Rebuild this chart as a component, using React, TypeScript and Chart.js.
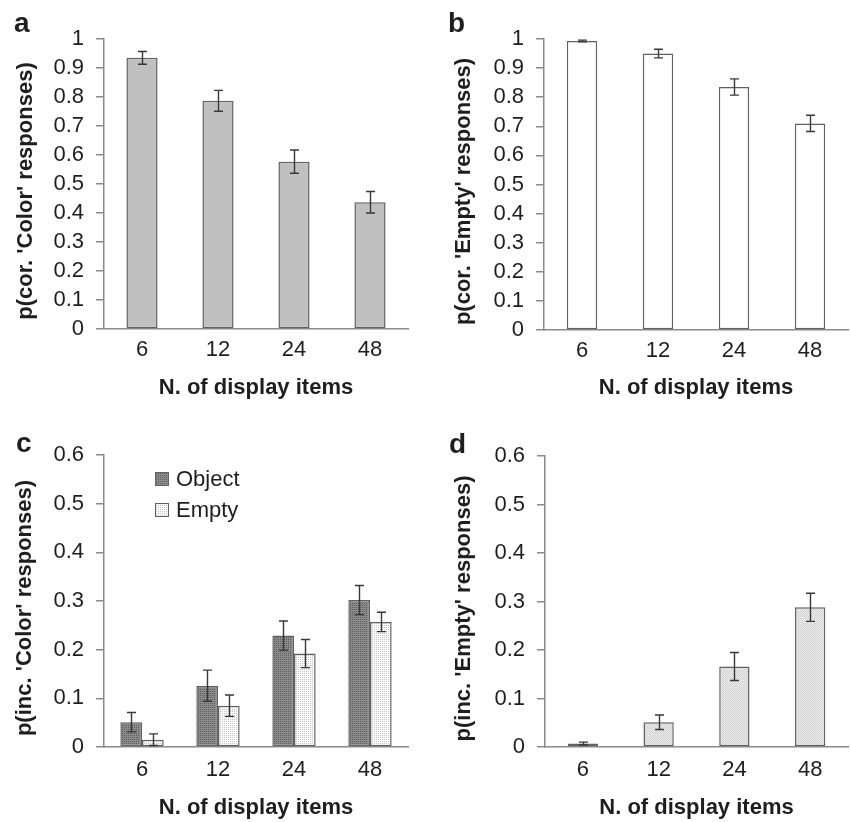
import React, { useEffect, useRef } from 'react';
import { Chart, registerables } from 'chart.js';

Chart.register(...registerables);

// ---------- data ----------
const CATEGORIES = ['6', '12', '24', '48'];

const A_VALUES = [0.935, 0.787, 0.577, 0.437];
const A_ERRORS = [0.022, 0.036, 0.04, 0.037];

const B_VALUES = [0.993, 0.95, 0.835, 0.71];
const B_ERRORS = [0.003, 0.015, 0.028, 0.028];

const C_OBJECT_VALUES = [0.051, 0.126, 0.229, 0.302];
const C_OBJECT_ERRORS = [0.02, 0.032, 0.03, 0.03];
const C_EMPTY_VALUES = [0.015, 0.085, 0.192, 0.257];
const C_EMPTY_ERRORS = [0.012, 0.022, 0.029, 0.02];

const D_VALUES = [0.007, 0.051, 0.166, 0.288];
const D_ERRORS = [0.003, 0.015, 0.029, 0.029];

const Y_TICKS_AB = [0, 0.1, 0.2, 0.3, 0.4, 0.5, 0.6, 0.7, 0.8, 0.9, 1];
const Y_TICKS_CD = [0, 0.1, 0.2, 0.3, 0.4, 0.5, 0.6];

const X_TITLE = 'N. of display items';
const Y_TITLE_A = "p(cor. 'Color' responses)";
const Y_TITLE_B = "p(cor. 'Empty' responses)";
const Y_TITLE_C = "p(inc. 'Color' responses)";
const Y_TITLE_D = "p(inc. 'Empty' responses)";
const LEGEND_LABELS = ['Object', 'Empty'];
const PANEL_LETTERS = ['a', 'b', 'c', 'd'];

// ---------- style ----------
const FONT = "'Liberation Sans', Arial, sans-serif";
const TEXT = '#1e1e1e';
const AXIS = '#8a8a8a';
const BAR_BORDER = '#626262';
const ERR = '#383838';
const W = 425;
const H = 411;

function makePattern(base: string, dot: string, size: number, dots: number[][]) {
  const c = document.createElement('canvas');
  c.width = size;
  c.height = size;
  const g = c.getContext('2d')!;
  g.fillStyle = base;
  g.fillRect(0, 0, size, size);
  g.fillStyle = dot;
  dots.forEach(([x, y]) => g.fillRect(x, y, 1, 1));
  return g.createPattern(c, 'repeat')!;
}

const errorBarPlugin = {
  id: 'errorBars',
  afterDatasetsDraw(chart: any) {
    const ctx = chart.ctx;
    const yScale = chart.scales.y;
    chart.data.datasets.forEach((ds: any, i: number) => {
      const errs = ds.errors;
      if (!errs) return;
      const meta = chart.getDatasetMeta(i);
      meta.data.forEach((bar: any, j: number) => {
        const v = ds.data[j];
        const e = errs[j];
        const x = Math.round(bar.x) + 0.5;
        const yTop = yScale.getPixelForValue(v + e);
        const yBot = yScale.getPixelForValue(Math.max(0, v - e));
        ctx.save();
        ctx.strokeStyle = ERR;
        ctx.lineWidth = 1.4;
        ctx.beginPath();
        ctx.moveTo(x, yTop);
        ctx.lineTo(x, yBot);
        ctx.moveTo(x - 4.5, yTop);
        ctx.lineTo(x + 4.5, yTop);
        ctx.moveTo(x - 4.5, yBot);
        ctx.lineTo(x + 4.5, yBot);
        ctx.stroke();
        ctx.restore();
      });
    });
  },
};

const legendPlugin = {
  id: 'panelLegend',
  afterDraw(chart: any, _args: any, opts: any) {
    if (!opts || !opts.show) return;
    const ctx = chart.ctx;
    const x0 = chart.chartArea.left + opts.dx;
    let y = chart.chartArea.top + opts.dy;
    chart.data.datasets.forEach((ds: any) => {
      ctx.save();
      ctx.fillStyle = ds.backgroundColor;
      ctx.fillRect(x0, y - 7, 14, 14);
      ctx.strokeStyle = BAR_BORDER;
      ctx.lineWidth = 1;
      ctx.strokeRect(x0 + 0.5, y - 6.5, 13, 13);
      ctx.fillStyle = TEXT;
      ctx.font = `22px ${FONT}`;
      ctx.textBaseline = 'middle';
      ctx.textAlign = 'left';
      ctx.fillText(ds.label, x0 + 21, y + 1);
      ctx.restore();
      y += opts.gap;
    });
  },
};

// vertical axis title, drawn beside the y scale
const yTitlePlugin = {
  id: 'yTitle',
  afterDraw(chart: any, _args: any, opts: any) {
    if (!opts || !opts.text) return;
    const ctx = chart.ctx;
    const { top, bottom } = chart.chartArea;
    ctx.save();
    ctx.translate(opts.x, (top + bottom) / 2 + opts.dy);
    ctx.rotate(-Math.PI / 2);
    ctx.font = `bold 22px ${FONT}`;
    ctx.fillStyle = TEXT;
    ctx.textAlign = 'center';
    ctx.textBaseline = 'middle';
    ctx.fillText(opts.text, 0, 0);
    ctx.restore();
  },
};

type Spec = {
  datasets: any[];
  yTicks: number[];
  yMax: number;
  yTitle: string;
  yTitleX: number;
  left: number;
  top: number;
  bottom: number;
  right: number;
  xTitlePad: number;
  xTickPad: number;
  legend?: boolean;
};

function buildChart(canvas: HTMLCanvasElement, s: Spec) {
  return new Chart(canvas, {
    type: 'bar',
    data: { labels: CATEGORIES, datasets: s.datasets },
    plugins: [errorBarPlugin, legendPlugin, yTitlePlugin],
    options: {
      animation: false,
      responsive: false,
      maintainAspectRatio: false,
      events: [],
      layout: { padding: { left: 0, top: s.top, right: W - s.right, bottom: 0 } },
      plugins: {
        legend: { display: false },
        tooltip: { enabled: false },
        panelLegend: { show: !!s.legend, dx: 51, dy: 24, gap: 31 },
        yTitle: { text: s.yTitle, x: s.yTitleX, dy: 7 },
      } as any,
      scales: {
        x: {
          grid: { display: false, drawTicks: false },
          border: { display: true, color: AXIS, width: 1.5 },
          ticks: { color: TEXT, font: { family: FONT, size: 22 }, padding: s.xTickPad },
          title: {
            display: true,
            text: X_TITLE,
            color: TEXT,
            font: { family: FONT, size: 22, weight: 'bold' },
            padding: { top: 0, bottom: s.xTitlePad },
          },
          afterFit: (sc: any) => {
            sc.height = H - s.bottom;
          },
        },
        y: {
          min: 0,
          max: s.yMax,
          afterBuildTicks: (sc: any) => {
            sc.ticks = s.yTicks.map((v) => ({ value: v }));
          },
          ticks: {
            color: TEXT,
            font: { family: FONT, size: 22 },
            padding: 12,
            autoSkip: false,
            callback: (v: any) => String(v),
          },
          grid: {
            drawOnChartArea: false,
            drawTicks: true,
            tickLength: 8,
            color: AXIS,
            lineWidth: 1.5,
          },
          border: { display: true, color: AXIS, width: 1.5 },
          title: { display: false },
          afterFit: (sc: any) => {
            sc.width = s.left;
          },
        },
      },
    } as any,
  });
}

export default function App() {
  const refA = useRef<HTMLCanvasElement>(null);
  const refB = useRef<HTMLCanvasElement>(null);
  const refC = useRef<HTMLCanvasElement>(null);
  const refD = useRef<HTMLCanvasElement>(null);

  useEffect(() => {
    const objPat = makePattern('#8a8a8a', '#606060', 2, [[0, 0]]);
    const emptyPat = makePattern('#fafafa', '#c6c6c6', 2, [[0, 0]]);
    const dPat = makePattern('#ececec', '#d2d2d2', 2, [[0, 0], [1, 1]]);

    const common = { borderColor: BAR_BORDER, borderWidth: 1.5, borderSkipped: false };

    const charts = [
      buildChart(refA.current!, {
        datasets: [
          { ...common, label: 'a', data: A_VALUES, errors: A_ERRORS, backgroundColor: '#c0c0c0', barPercentage: 0.41, categoryPercentage: 1 },
        ],
        yTicks: Y_TICKS_AB,
        yMax: 1,
        yTitle: Y_TITLE_A,
        yTitleX: 26,
        left: 104,
        top: 39,
        bottom: 329,
        right: 408,
        xTitlePad: 10,
        xTickPad: 8,
      }),
      buildChart(refB.current!, {
        datasets: [
          { ...common, label: 'b', data: B_VALUES, errors: B_ERRORS, backgroundColor: '#ffffff', barPercentage: 0.4, categoryPercentage: 1 },
        ],
        yTicks: Y_TICKS_AB,
        yMax: 1,
        yTitle: Y_TITLE_B,
        yTitleX: 39,
        left: 119,
        top: 39,
        bottom: 330,
        right: 423,
        xTitlePad: 10,
        xTickPad: 8,
      }),
      buildChart(refC.current!, {
        datasets: [
          { ...common, label: LEGEND_LABELS[0], data: C_OBJECT_VALUES, errors: C_OBJECT_ERRORS, backgroundColor: objPat, barPercentage: 1, categoryPercentage: 0.57 },
          { ...common, label: LEGEND_LABELS[1], data: C_EMPTY_VALUES, errors: C_EMPTY_ERRORS, backgroundColor: emptyPat, barPercentage: 1, categoryPercentage: 0.57 },
        ],
        yTicks: Y_TICKS_CD,
        yMax: 0.6,
        yTitle: Y_TITLE_C,
        yTitleX: 25,
        left: 104,
        top: 44,
        bottom: 336,
        right: 408,
        xTitlePad: 1,
        xTickPad: 10,
        legend: true,
      }),
      buildChart(refD.current!, {
        datasets: [
          { ...common, label: 'd', data: D_VALUES, errors: D_ERRORS, backgroundColor: dPat, barPercentage: 0.4, categoryPercentage: 1 },
        ],
        yTicks: Y_TICKS_CD,
        yMax: 0.6,
        yTitle: Y_TITLE_D,
        yTitleX: 38.5,
        left: 120,
        top: 45,
        bottom: 336,
        right: 423,
        xTitlePad: 1,
        xTickPad: 10,
      }),
    ];
    return () => charts.forEach((c) => c.destroy());
  }, []);

  const canvasStyle = (left: number, top: number): React.CSSProperties => ({
    position: 'absolute',
    left,
    top,
    width: W,
    height: H,
  });
  const letterStyle = (left: number, top: number): React.CSSProperties => ({
    position: 'absolute',
    left,
    top,
    font: `bold 28px ${FONT}`,
    lineHeight: '28px',
    color: TEXT,
    margin: 0,
  });

  return (
    <div style={{ position: 'absolute', left: 0, top: 0, width: 850, height: 822, background: '#ffffff', overflow: 'hidden' }}>
      <canvas ref={refA} width={W} height={H} style={canvasStyle(0, 0)} />
      <canvas ref={refB} width={W} height={H} style={canvasStyle(425, 0)} />
      <canvas ref={refC} width={W} height={H} style={canvasStyle(0, 411)} />
      <canvas ref={refD} width={W} height={H} style={canvasStyle(425, 411)} />
      <div style={letterStyle(14, 9)}>{PANEL_LETTERS[0]}</div>
      <div style={letterStyle(448, 9)}>{PANEL_LETTERS[1]}</div>
      <div style={letterStyle(16, 429)}>{PANEL_LETTERS[2]}</div>
      <div style={letterStyle(449, 430)}>{PANEL_LETTERS[3]}</div>
    </div>
  );
}
